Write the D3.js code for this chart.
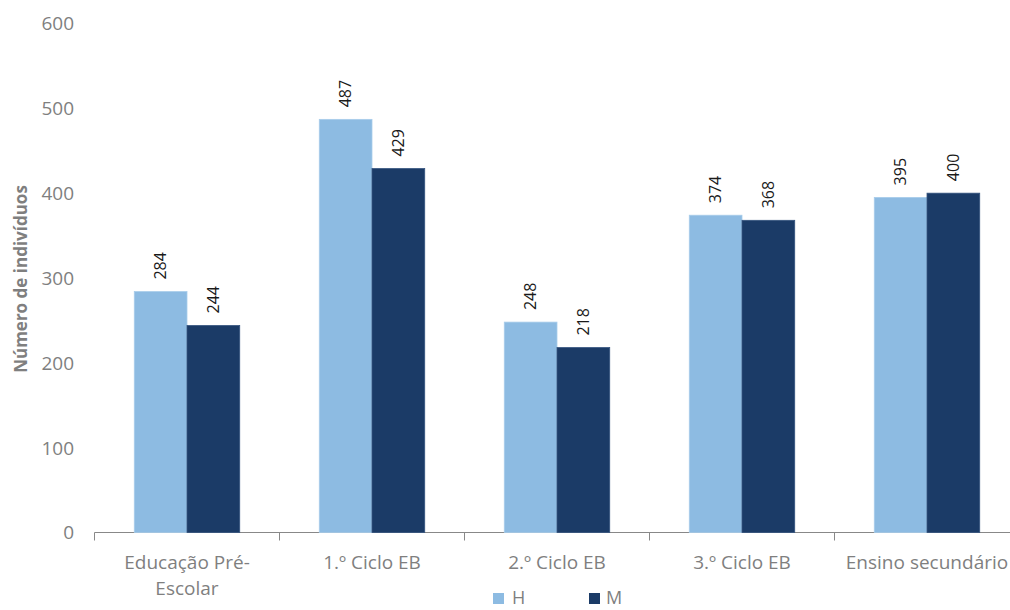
<!DOCTYPE html>
<html>
<head>
<meta charset="utf-8">
<script src="https://cdn.jsdelivr.net/npm/d3@7"></script>
<style>
  html, body { margin: 0; padding: 0; background: #fff; }
  svg { display: block; }
  text { font-family: "Open Sans", sans-serif; }
</style>
</head>
<body>
<svg id="chart" width="1010" height="610"></svg>
<script>
const categories = [["Educação Pré-", "Escolar"], ["1.º Ciclo EB"], ["2.º Ciclo EB"], ["3.º Ciclo EB"], ["Ensino secundário"]];
const seriesNames = ["H", "M"];
const valuesH = [284, 487, 248, 374, 395];
const valuesM = [244, 429, 218, 368, 400];
const yTicks = [0, 100, 200, 300, 400, 500, 600];
const colors = ["#8DBBE2", "#1B3B67"];
const strokes = ["#A8CCEA", "#35547F"];

const svg = d3.select("#chart");
const catKeys = categories.map((c, i) => i);

const x = d3.scaleBand().domain(catKeys).range([94.5, 1019.5]).padding(0);
const y = d3.scaleLinear().domain([0, 600]).range([532.5, 23.5]);
const barW = x.bandwidth() * 0.285;

const series = [valuesH, valuesM];

// x axis
const xAxisG = svg.append("g").attr("transform", "translate(0,532.5)");
xAxisG.append("line")
  .attr("x1", x.range()[0]).attr("x2", x.range()[1])
  .attr("stroke", "#888").attr("stroke-width", 1);
xAxisG.selectAll("line.tick")
  .data(catKeys.concat([catKeys.length]))
  .join("line").attr("class", "tick")
  .attr("x1", d => x.range()[0] + d * x.step())
  .attr("x2", d => x.range()[0] + d * x.step())
  .attr("y1", 0).attr("y2", 8)
  .attr("stroke", "#888");

const xl = svg.append("g");
categories.forEach((lines, i) => {
  const t = xl.append("text")
    .attr("x", x(i) + x.bandwidth() / 2)
    .attr("y", 569)
    .attr("text-anchor", "middle")
    .attr("fill", "#7F7F7F")
    .style("font-size", "19px");
  lines.forEach((ln, j) => {
    t.append("tspan").attr("x", x(i) + x.bandwidth() / 2).attr("dy", j === 0 ? 0 : 26).text(ln);
  });
});

// y axis labels
svg.append("g").selectAll("text")
  .data(yTicks).join("text")
  .attr("x", 74)
  .attr("y", d => y(d))
  .attr("dy", "0.36em")
  .attr("text-anchor", "end")
  .attr("fill", "#7F7F7F")
  .style("font-size", "19px")
  .text(d => d);

// y axis title
svg.append("text")
  .attr("transform", "translate(21,279) rotate(-90)")
  .attr("text-anchor", "middle")
  .attr("dy", "0.36em")
  .attr("fill", "#7F7F7F")
  .style("font-size", "17px")
  .style("font-weight", "bold")
  .text("Número de indivíduos");

// bars
series.forEach((vals, s) => {
  const g = svg.append("g");
  g.selectAll("rect").data(vals).join("rect")
    .attr("x", (d, i) => x(i) + x.bandwidth() / 2 - barW + s * barW)
    .attr("y", d => y(d))
    .attr("width", barW)
    .attr("height", d => y(0) - y(d))
    .attr("fill", colors[s])
    .attr("stroke", strokes[s])
    .attr("stroke-width", 0.8);
  g.selectAll("text").data(vals).join("text")
    .attr("transform", (d, i) => {
      const cx = x(i) + x.bandwidth() / 2 - barW + s * barW + barW / 2;
      return `translate(${cx},${y(d) - 12}) rotate(-90)`;
    })
    .attr("dy", "0.35em")
    .attr("text-anchor", "start")
    .attr("fill", "#1A1A1A")
    .style("font-size", "16px")
    .text(d => d);
});

// legend
const legendPos = [[493, 512], [589, 606]];
seriesNames.forEach((n, s) => {
  svg.append("rect")
    .attr("x", legendPos[s][0]).attr("y", 593)
    .attr("width", 11).attr("height", 11)
    .attr("fill", colors[s]);
  svg.append("text")
    .attr("x", legendPos[s][1]).attr("y", 604)
    .attr("fill", "#7F7F7F")
    .style("font-size", "18px")
    .text(n);
});
</script>
</body>
</html>
